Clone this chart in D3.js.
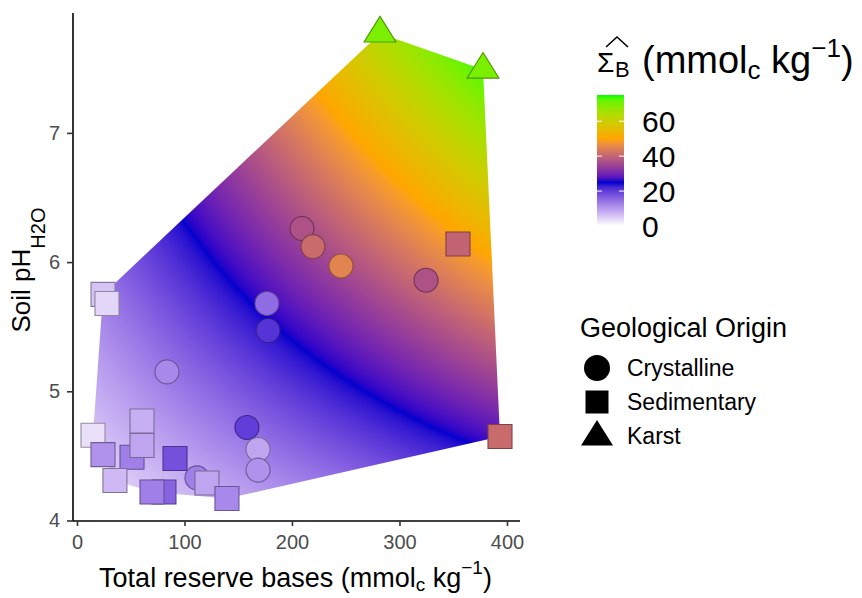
<!DOCTYPE html>
<html>
<head>
<meta charset="utf-8">
<script src="https://cdn.jsdelivr.net/npm/d3@7"></script>
<style>
  body { margin: 0; background: #fff; }
  text { font-family: "Liberation Sans", Arial, sans-serif; }
</style>
</head>
<body>
<svg id="chart" width="862" height="598"></svg>
<script>
// site data, in draw order
const reserveBases = [14.9, 24.2, 60.5, 51.2, 60.5, 35.3, 91.2, 80.9, 69.8, 111.6, 120.9, 139.5,
                      158.1, 168.4, 168.4, 24.2, 27.9, 83.7, 176.7, 177.7, 209.3, 219.5, 245.6,
                      324.7, 354.4, 393.5, 281.9, 377.7]
const soilPH = [4.66, 4.51, 4.77, 4.49, 4.58, 4.31, 4.48, 4.22, 4.22, 4.33, 4.29, 4.17,
                4.72, 4.55, 4.39, 5.75, 5.68, 5.15, 5.68, 5.47, 6.26, 6.12, 5.97,
                5.86, 6.14, 4.65, 7.77, 7.49]
const sumBases = [3, 11, 8, 13, 9, 7, 18, 16, 13, 13, 9, 12,
                  20, 9, 11, 6, 4, 12, 15, 21, 37, 41, 45,
                  37, 40, 41, 70, 70]
const origin = ['Sedimentary', 'Sedimentary', 'Sedimentary', 'Sedimentary', 'Sedimentary', 'Sedimentary',
                'Sedimentary', 'Sedimentary', 'Sedimentary', 'Crystalline', 'Sedimentary', 'Sedimentary',
                'Crystalline', 'Crystalline', 'Crystalline', 'Sedimentary', 'Sedimentary', 'Crystalline',
                'Crystalline', 'Crystalline', 'Crystalline', 'Crystalline', 'Crystalline',
                'Crystalline', 'Sedimentary', 'Sedimentary', 'Karst', 'Karst']

// fitted surface: SB = a + b*x + c*pH + d*x*pH
const coef = {a: -21.23, b: -0.0773, c: 5.67, d: 0.0288}

const xTicks = [0, 100, 200, 300, 400]
const yTicks = [4, 5, 6, 7]
const fillTicks = [0, 20, 40, 60]
const fillStops = [0, 25, 50, 75]
const fillColors = ['#ffffff', '#0000cd', '#ffa500', '#00ff00']
const origins = ['Crystalline', 'Sedimentary', 'Karst']

const panel = {left: 73, right: 520, top: 13, bottom: 521}

const svg = d3.select('#chart')

const x = d3.scaleLinear().domain([-3.7, 412.1]).range([panel.left, panel.right])
const y = d3.scaleLinear().domain([3.996, 7.928]).range([panel.bottom, panel.top])
const fill = d3.scaleLinear().domain(fillStops).range(fillColors)
    .interpolate(d3.interpolateLab).clamp(true)

const model = (v, p) => coef.a + coef.b * v + coef.c * p + coef.d * v * p

const data = reserveBases.map((v, i) => ({
    x: v, ph: soilPH[i], sb: sumBases[i], origin: origin[i]
}))

// surface raster
const w = panel.right - panel.left, h = panel.bottom - panel.top
const canvas = document.createElement('canvas')
canvas.width = w
canvas.height = h
const ctx = canvas.getContext('2d')
const img = ctx.createImageData(w, h)
for (let j = 0; j < h; j++) {
    const p = y.invert(panel.top + j + 0.5)
    for (let i = 0; i < w; i++) {
        const v = x.invert(panel.left + i + 0.5)
        const c = d3.rgb(fill(model(v, p)))
        const k = (j * w + i) * 4
        img.data[k] = c.r
        img.data[k + 1] = c.g
        img.data[k + 2] = c.b
        img.data[k + 3] = 255
    }
}
ctx.putImageData(img, 0, 0)

const hull = d3.polygonHull(data.map(d => [x(d.x), y(d.ph)]))

svg.append('clipPath').attr('id', 'hull')
    .append('path').attr('d', 'M' + hull.join('L') + 'Z')

svg.append('image')
    .attr('x', panel.left).attr('y', panel.top)
    .attr('width', w).attr('height', h)
    .attr('preserveAspectRatio', 'none')
    .attr('href', canvas.toDataURL())
    .attr('clip-path', 'url(#hull)')

// axes
const xAxis = svg.append('g')
    .attr('transform', 'translate(0,' + panel.bottom + ')')
    .call(d3.axisBottom(x).tickValues(xTicks).tickSize(5).tickPadding(9).tickSizeOuter(0))
const yAxis = svg.append('g')
    .attr('transform', 'translate(' + panel.left + ',0)')
    .call(d3.axisLeft(y).tickValues(yTicks).tickFormat(d3.format('d'))
        .tickSize(6).tickPadding(7).tickSizeOuter(0))

;[xAxis, yAxis].forEach(g => {
    g.select('.domain').attr('stroke', '#000').attr('stroke-width', 1.6)
    g.selectAll('.tick line').attr('stroke', '#333').attr('stroke-width', 1.6)
    g.selectAll('.tick text').attr('fill', '#4d4d4d').style('font-size', '20px')
        .style('font-family', '"Liberation Sans", Arial, sans-serif')
})
xAxis.select('.domain').attr('d', 'M' + panel.left + ',0H' + panel.right)
yAxis.select('.domain').attr('d', 'M0,' + panel.top + 'V' + panel.bottom)

// points
const symbolSize = {Crystalline: 24, Sedimentary: 24, Karst: 32}
function shapePath(o, s) {
    if (o === 'Crystalline') return d3.symbol(d3.symbolCircle, Math.PI * (s / 2) ** 2)()
    if (o === 'Sedimentary') return d3.symbol(d3.symbolSquare, s * s)()
    const hh = s * 0.8
    return 'M0,' + (-hh * 2 / 3) + 'L' + (s / 2) + ',' + (hh / 3) + 'L' + (-s / 2) + ',' + (hh / 3) + 'Z'
}

svg.append('g').selectAll('path')
    .data(data)
    .join('path')
    .attr('transform', d => 'translate(' + x(d.x) + ',' + y(d.ph) + ')')
    .attr('d', d => shapePath(d.origin, symbolSize[d.origin]))
    .attr('fill', d => fill(d.sb))
    .attr('stroke', d => d3.color(fill(d.sb)).darker(1.3))
    .attr('stroke-width', 1.1)

// axis titles
const xt = svg.append('text')
    .attr('x', (panel.left + panel.right) / 2 - 1).attr('y', 587)
    .attr('text-anchor', 'middle').style('font-size', '27px')
xt.append('tspan').text('Total reserve bases (mmol')
xt.append('tspan').text('c').style('font-size', '19px').attr('dy', 4)
xt.append('tspan').text(' kg').attr('dy', -4)
xt.append('tspan').text('\u22121').style('font-size', '19px').attr('dy', -13)
xt.append('tspan').text(')').attr('dy', 13)

const yt = svg.append('text')
    .attr('transform', 'translate(30,270) rotate(-90)')
    .attr('text-anchor', 'middle').style('font-size', '26px')
yt.append('tspan').text('Soil pH')
yt.append('tspan').text('H2O').style('font-size', '20px').attr('dy', 15)

// colour legend
const lg = svg.append('g')
lg.append('text').attr('x', 597).attr('y', 72).style('font-size', '28px').text('\u03a3')
lg.append('text').attr('x', 615).attr('y', 77).style('font-size', '22px').text('B')
lg.append('path').attr('d', 'M606,47L617,37L628,47')
    .attr('fill', 'none').attr('stroke', '#000').attr('stroke-width', 1.6)
const lt = lg.append('text').attr('x', 642).attr('y', 73).style('font-size', '38px')
lt.append('tspan').text('(mmol')
lt.append('tspan').text('c').style('font-size', '26px').attr('dy', 6)
lt.append('tspan').text(' kg').attr('dy', -6)
lt.append('tspan').text('\u22121').style('font-size', '26px').attr('dy', -16)
lt.append('tspan').text(')').attr('dy', 16)

const bar = {x: 597, w: 27, top: 95, bottom: 226}
const f = d3.scaleLinear().domain([0, 75]).range([bar.bottom, bar.top])
const grad = svg.append('defs').append('linearGradient').attr('id', 'fillbar')
    .attr('x1', 0).attr('y1', 1).attr('x2', 0).attr('y2', 0)
d3.range(0, 76, 2.5).forEach(v => {
    grad.append('stop').attr('offset', v / 75).attr('stop-color', fill(v))
})
lg.append('rect').attr('x', bar.x).attr('y', bar.top)
    .attr('width', bar.w).attr('height', bar.bottom - bar.top)
    .attr('fill', 'url(#fillbar)')
fillTicks.forEach(t => {
    if (t > 0) {
        lg.append('line').attr('x1', bar.x).attr('x2', bar.x + 5)
            .attr('y1', f(t)).attr('y2', f(t)).attr('stroke', '#fff').attr('stroke-width', 1)
        lg.append('line').attr('x1', bar.x + bar.w - 5).attr('x2', bar.x + bar.w)
            .attr('y1', f(t)).attr('y2', f(t)).attr('stroke', '#fff').attr('stroke-width', 1)
    }
    lg.append('text').attr('x', 642).attr('y', f(t)).attr('dy', '0.36em')
        .style('font-size', '30px').text(t)
})

// shape legend
const sg = svg.append('g')
sg.append('text').attr('x', 580).attr('y', 337).style('font-size', '27px').text('Geological Origin')
origins.forEach((o, i) => {
    const cy = 368 + i * 34
    sg.append('path')
        .attr('transform', 'translate(597,' + (o === 'Karst' ? cy + 1 : cy) + ')')
        .attr('d', shapePath(o, o === 'Crystalline' ? 26 : o === 'Sedimentary' ? 23 : 32))
        .attr('fill', '#000')
    sg.append('text').attr('x', 627).attr('y', cy).attr('dy', '0.36em')
        .style('font-size', '23px').text(o)
})
</script>
</body>
</html>
